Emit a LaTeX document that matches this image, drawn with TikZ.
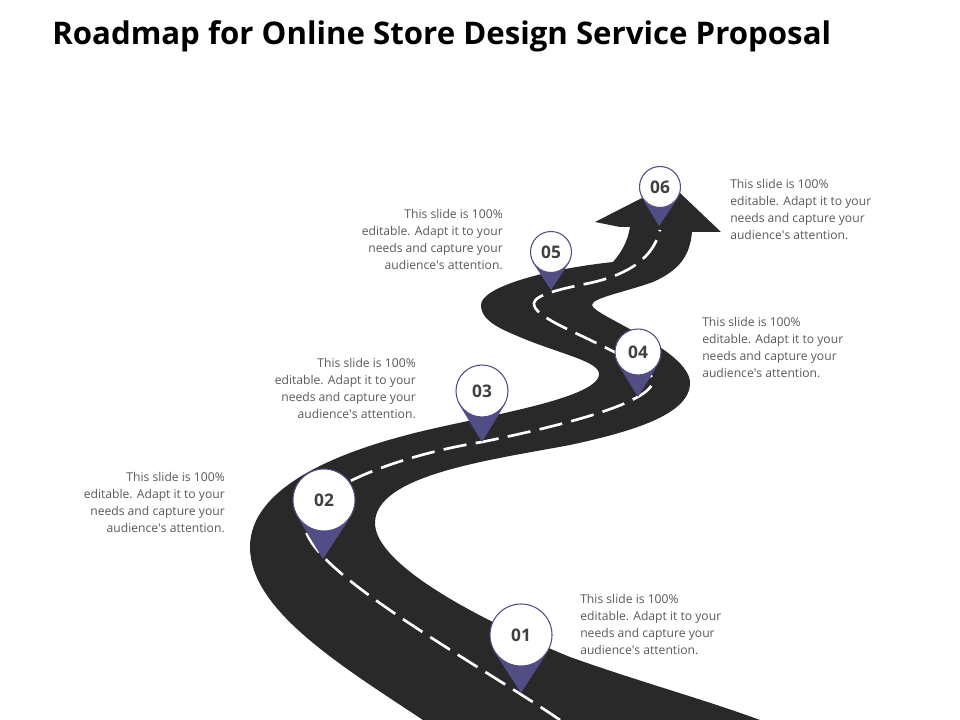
\documentclass[tikz,border=0pt]{standalone}
\usepackage{fontspec}
\setmainfont{Open Sans}
\newfontfamily\headfont{Open Sans}
\usepackage{tikz}
\usetikzlibrary{backgrounds}
\definecolor{roadgray}{HTML}{292929}
\definecolor{pinblue}{HTML}{514D85}
\definecolor{notegray}{HTML}{595959}
\definecolor{numgray}{HTML}{404040}
\newcommand{\notetext}{This slide is 100\%\\editable. Adapt it to your\\needs and capture your\\audience\textquotesingle s attention.}
\tikzset{
    road/.style={fill=roadgray},
    midline/.style={draw=white, line width=2pt, dash pattern=on 17.5pt off 7pt},
    pin/.style={draw=pinblue, circle, fill=white, line width=0.8pt, inner sep=0pt, minimum size=#1*1.5pt, text=numgray, font=\headfont\bfseries\fontsize{13}{15}\selectfont},
    pintip/.style={fill=pinblue},
    note/.style={text=notegray, inner sep=0pt, font=\fontsize{9.1}{12.75}\selectfont}
}

\begin{document}
\begin{tikzpicture}[x=0.75pt, y=-0.75pt]
    \useasboundingbox (0,0) rectangle (960,720);
    \node[anchor=west, inner sep=0pt, font=\headfont\bfseries\fontsize{23.4}{28}\selectfont] (title) at (52,36.5) {Roadmap for Online Store Design Service Proposal};

    \node[pin=31] (p1) at (521,635) {01};
    \node[pin=31] (p2) at (324,500) {02};
    \node[pin=26] (p3) at (482,391) {03};
    \node[pin=23] (p4) at (638,352) {04};
    \node[pin=20.5] (p5) at (551,252) {05};
    \node[pin=20.5] (p6) at (660,187) {06};

    \coordinate (t1) at (521,693);
    \coordinate (t2) at (323,559);
    \coordinate (t3) at (482,442);
    \coordinate (t4) at (638,397);
    \coordinate (t5) at (551,290);
    \coordinate (t6) at (659,226);

    \node[note, anchor=west, align=left] (n1) at (580,624) {\notetext};
    \node[note, anchor=east, align=right] (n2) at (225,502.5) {\notetext};
    \node[note, anchor=east, align=right] (n3) at (416,388.5) {\notetext};
    \node[note, anchor=west, align=left] (n4) at (702,347.5) {\notetext};
    \node[note, anchor=east, align=right] (n5) at (503,239.5) {\notetext};
    \node[note, anchor=west, align=left] (n6) at (730,209.5) {\notetext};

    \begin{scope}[on background layer]
        % road outline, up the left edge and back down the right edge
        \fill[road] (423,720) .. controls (340,665) and (250,610) .. (250,547)
            .. controls (250,490) and (330,455) .. (407,435)
            .. controls (470,418) and (599,400) .. (599,374)
            .. controls (599,362) and (565,355) .. (527,340)
            .. controls (503,330) and (481,322) .. (481,305)
            .. controls (481,288) and (540,270) .. (613,262)
            .. controls (622,252) and (628,240) .. (630,227)
            -- (620,227) -- (595,222) -- (642,198) -- (680,193) -- (721,232) -- (692,232)
            .. controls (690,255) and (680,270) .. (653,282)
            .. controls (625,292) and (592,298) .. (592,305)
            .. controls (592,315) and (690,350) .. (690,383)
            .. controls (690,415) and (630,432) .. (570,445)
            .. controls (490,460) and (375,475) .. (375,523)
            .. controls (375,565) and (480,620) .. (570,657)
            .. controls (640,682) and (700,698) .. (760,720)
            -- cycle;
        \draw[midline] (560,720) .. controls (480,665) and (305,570) .. (305,525)
            .. controls (305,490) and (400,455) .. (482,442)
            .. controls (540,430) and (654,405) .. (653,380)
            .. controls (652,368) and (600,345) .. (563,327)
            .. controls (545,318) and (533,310) .. (534,303)
            .. controls (535,295) and (560,289) .. (590,283)
            .. controls (640,272) and (655,250) .. (660,230);

        \fill[pintip] (p1.208) -- (t1) -- (p1.332) -- cycle;
        \fill[pintip] (p2.208) -- (t2) -- (p2.332) -- cycle;
        \fill[pintip] (p3.208) -- (t3) -- (p3.332) -- cycle;
        \fill[pintip] (p4.208) -- (t4) -- (p4.332) -- cycle;
        \fill[pintip] (p5.208) -- (t5) -- (p5.332) -- cycle;
        \fill[pintip] (p6.208) -- (t6) -- (p6.332) -- cycle;
    \end{scope}
\end{tikzpicture}
\end{document}
